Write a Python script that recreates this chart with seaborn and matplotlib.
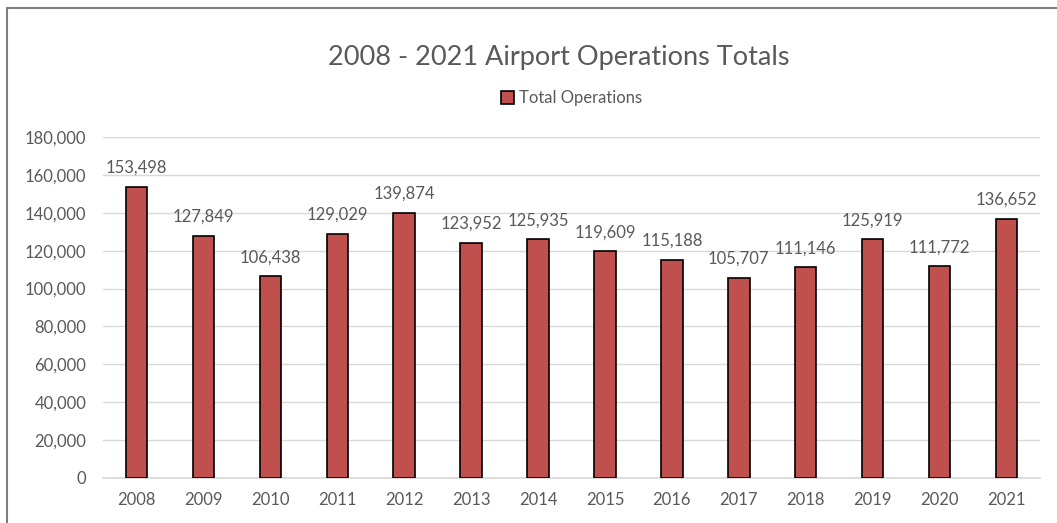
import matplotlib
matplotlib.use("Agg")
import matplotlib.pyplot as plt
import matplotlib.patches as mpatches
from matplotlib.ticker import FuncFormatter
import seaborn as sns
import pandas as pd

# ================= DATA =================

years = ["2008", "2009", "2010", "2011", "2012", "2013", "2014",
         "2015", "2016", "2017", "2018", "2019", "2020", "2021"]
operations = [153498, 127849, 106438, 129029, 139874, 123952, 125935,
              119609, 115188, 105707, 111146, 125919, 111772, 136652]

df = pd.DataFrame({"Year": years, "Total Operations": operations})

# ================= STYLE =================

sns.set_theme(style="white")
plt.rcParams["font.family"] = ["Lato", "DejaVu Sans"]
text_color = "#595959"
bar_color = "#C0504D"

fig = plt.figure(figsize=(10.57, 5.23), dpi=100)
ax = fig.add_axes([103 / 1057, 1 - 478 / 523, 937 / 1057, 341 / 523])

sns.barplot(
    data=df,
    x="Year",
    y="Total Operations",
    color=bar_color,
    width=0.32,
    edgecolor="black",
    linewidth=1.2,
    saturation=1,
    ax=ax,
    zorder=3,
)

# data labels
for container in ax.containers:
    ax.bar_label(
        container,
        labels=[f"{v:,}" for v in operations],
        padding=8,
        fontsize=12,
        color=text_color,
    )

ax.set_ylim(0, 180000)
ax.set_yticks(range(0, 180001, 20000))
ax.yaxis.set_major_formatter(FuncFormatter(lambda v, p: f"{int(v):,}"))
ax.grid(axis="y", color="#D9D9D9", linewidth=1, zorder=0)
ax.set_xlim(-0.5, len(years) - 0.5)

for side in ["top", "right", "left"]:
    ax.spines[side].set_visible(False)
ax.spines["bottom"].set_color("#D9D9D9")

ax.set_xlabel("")
ax.set_ylabel("")
ax.tick_params(axis="both", length=0, labelsize=12, labelcolor=text_color)
ax.tick_params(axis="x", pad=10)
ax.tick_params(axis="y", pad=12)

# ================= TITLE & LEGEND =================

fig.text(0.529, 1 - 58 / 523, "2008 - 2021 Airport Operations Totals",
         ha="center", va="center", fontsize=19.5, color=text_color)

handle = mpatches.Patch(facecolor=bar_color, edgecolor="black", linewidth=1.2,
                        label="Total Operations")
fig.legend(handles=[handle], loc="center", bbox_to_anchor=(0.541, 1 - 98 / 523),
           frameon=False, fontsize=12, handlelength=0.8, handleheight=0.8,
           handletextpad=0.3, labelcolor=text_color)

# chart frame
fig.add_artist(mpatches.Rectangle((7 / 1057, -0.05), 1.1, 1 - 8 / 523 + 0.05,
                                  transform=fig.transFigure, fill=False,
                                  edgecolor="#7F7F7F", linewidth=1.5))

fig.savefig("out.png", dpi=100)
